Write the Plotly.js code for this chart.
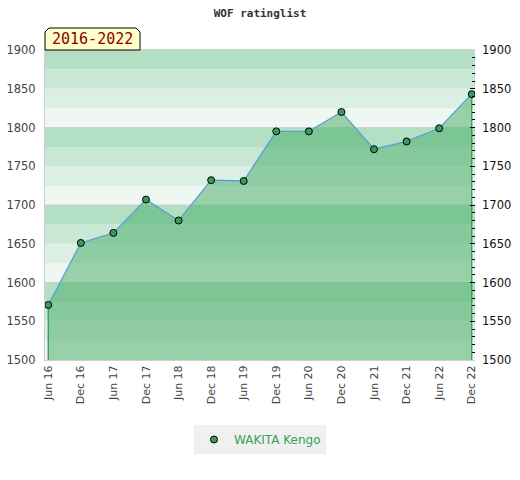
<!DOCTYPE html>
<html><head><meta charset="utf-8">
<script src="https://cdn.plot.ly/plotly-3.0.1.min.js"></script>
<style>html,body{margin:0;padding:0;background:#fff}#c{width:520px;height:480px}</style>
</head><body><div id="c"></div>
<script>
const categories = ["Jun 16","Dec 16","Jun 17","Dec 17","Jun 18","Dec 18","Jun 19","Dec 19","Jun 20","Dec 20","Jun 21","Dec 21","Jun 22","Dec 22"];
const ratings = [1571,1651,1664,1707,1680,1732,1731,1795,1795,1820,1772,1782,1799,1843];
const playerName = "WAKITA Kengo";
const periodLabel = "2016-2022";
const chartTitle = "WOF ratinglist";
const yMin = 1500, yMax = 1900;

const bandColors = ["#b3dfc4","#c8e7d4","#dcefe3","#eef7f1"];
const shapes = [];
for (let v = yMin; v < yMax; v += 25) {
  const idx = ((yMax - v - 25) / 25) % 4;
  shapes.push({type:"rect",xref:"paper",yref:"y",x0:0,x1:1,y0:v,y1:v+25,fillcolor:bandColors[idx],line:{width:0},layer:"below"});
}
for (let v = yMin+100; v < yMax; v += 100) {
  shapes.push({type:"line",xref:"paper",yref:"y",x0:0,x1:1,y0:v,y1:v,line:{color:"#d0d0d0",width:1},layer:"below"});
}
// label box with cut corners
const bw = 95/430, bh = 22/310, c = 4;
shapes.push({type:"path",xref:"paper",yref:"paper",
  path:`M 0 1 L 0 ${1+bh-c/310} L ${c/430} ${1+bh} L ${bw-c/430} ${1+bh} L ${bw} ${1+bh-c/310} L ${bw} 1 Z`,
  fillcolor:"#ffffcc",line:{color:"#000",width:1}});

const n = categories.length;
const traces = [
  {x:categories,y:ratings,type:"scatter",mode:"lines",fill:"tozeroy",fillcolor:"rgba(75,174,107,0.53)",
   line:{color:"#5b9fd6",width:1.3},showlegend:false,hoverinfo:"skip"},
  {x:[categories[0],categories[0]],y:[yMin,ratings[0]],mode:"lines",line:{color:"#2e9e4e",width:1.3},showlegend:false},
  {x:[categories[n-1],categories[n-1]],y:[yMin,ratings[n-1]],mode:"lines",line:{color:"#2e9e4e",width:1.3},showlegend:false},
  {x:categories,y:ratings,type:"scatter",mode:"markers",name:playerName,
   marker:{color:"#3a9a5a",size:7,line:{color:"#000",width:1}}},
  {x:categories,y:ratings,type:"scatter",mode:"markers",yaxis:"y2",showlegend:false,hoverinfo:"skip",marker:{opacity:0}}
];

const layout = {
  width:520,height:480,
  margin:{l:45,r:45,t:50,b:120},
  paper_bgcolor:"#fff",plot_bgcolor:"#fff",
  title:{text:"<b>"+chartTitle+"</b>",x:0.5,xanchor:"center",y:1-13/480,yanchor:"middle",
    font:{family:"DejaVu Sans Mono",size:11,color:"#333"}},
  xaxis:{type:"category",range:[-0.1,n-0.9],tickangle:-90,showgrid:false,zeroline:false,
    showline:true,mirror:true,linecolor:"#cfcfcf",linewidth:1,ticks:"",
    tickfont:{family:"DejaVu Sans",size:11,color:"#444"}},
  yaxis:{range:[yMin,yMax],dtick:50,showgrid:false,zeroline:false,showline:true,linecolor:"#cfcfcf",
    ticks:"",ticklabelstandoff:6,tickfont:{family:"DejaVu Sans",size:11.5,color:"#444"}},
  yaxis2:{range:[yMin,yMax],dtick:50,overlaying:"y",side:"right",showgrid:false,zeroline:false,
    ticks:"inside",ticklen:5,tickcolor:"#000",ticklabelstandoff:6,
    minor:{dtick:10,ticks:"inside",ticklen:3,tickcolor:"#000"},
    tickfont:{family:"DejaVu Sans",size:11.5,color:"#111"}},
  shapes:shapes,
  annotations:[{text:periodLabel,xref:"paper",yref:"paper",x:bw/2,y:1+bh/2,xanchor:"center",yanchor:"middle",
    showarrow:false,font:{family:"DejaVu Sans Mono",size:15,color:"#8b0000"}}],
  legend:{orientation:"h",x:0.5,xanchor:"center",y:-65/310,yanchor:"top",bgcolor:"#f0f0f0",
    font:{family:"DejaVu Sans",size:12,color:"#3aa05a"},itemwidth:30}
};
Plotly.newPlot("c",traces,layout,{displayModeBar:false,staticPlot:true});
</script></body></html>
